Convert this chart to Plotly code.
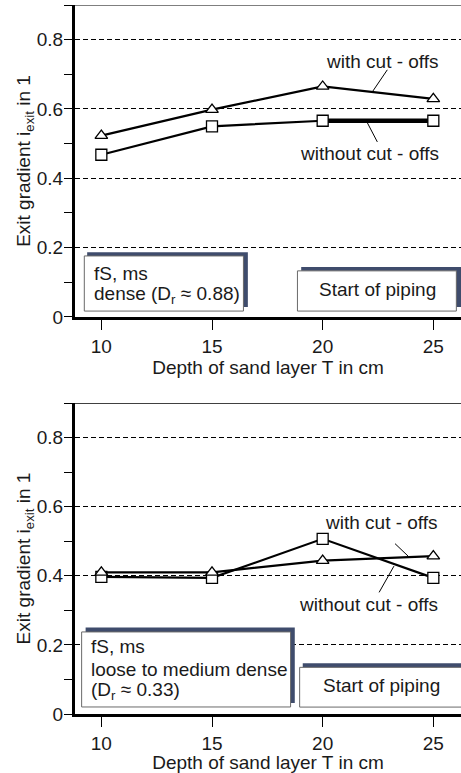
import plotly.graph_objects as go
from plotly.subplots import make_subplots

# ---- data ----
depth = [10, 15, 20, 25]
dense_with = [0.523, 0.598, 0.665, 0.629]
dense_without = [0.468, 0.550, 0.566, 0.566]
loose_with = [0.410, 0.410, 0.444, 0.457]
loose_without = [0.397, 0.394, 0.507, 0.394]

ytick_vals = [0, 0.2, 0.4, 0.6, 0.8]
ytick_text = ["0", "0.2", "0.4", "0.6", "0.8"]
xtick_vals = [10, 15, 20, 25]

FONT = "Liberation Sans, Arial, sans-serif"
TXT = "#1a1a1a"
SHADOW = "#3f4c6c"
BORDER = "#6a6a6a"

fig = make_subplots(rows=2, cols=1)

def add_series(row, x, ywith, ywithout, thick_tail=False):
    if thick_tail:
        # thick segment of "without" between last two points
        fig.add_trace(go.Scatter(x=x[2:], y=ywithout[2:], mode="lines",
                                 line=dict(color="black", width=4.5),
                                 showlegend=False, hoverinfo="skip"), row=row, col=1)
    fig.add_trace(go.Scatter(x=x, y=ywithout, mode="lines+markers",
                             line=dict(color="black", width=2.2),
                             marker=dict(symbol="square", size=11, color="white",
                                         line=dict(color="black", width=1.3)),
                             showlegend=False), row=row, col=1)
    fig.add_trace(go.Scatter(x=x, y=ywith, mode="lines+markers",
                             line=dict(color="black", width=2.2),
                             marker=dict(symbol="triangle-up", size=11, color="white",
                                         line=dict(color="black", width=1.3)),
                             showlegend=False), row=row, col=1)

add_series(1, depth, dense_with, dense_without, thick_tail=True)
add_series(2, depth, loose_with, loose_without)

axis_common_x = dict(range=[8.81, 26.25], tickvals=xtick_vals, ticks="outside",
                     ticklen=10, tickwidth=1, tickcolor="black",
                     showline=True, linewidth=3, linecolor="black",
                     showgrid=False, zeroline=False,
                     tickfont=dict(size=19, color=TXT, family=FONT),
                     title=dict(text="Depth of sand layer T in cm",
                                font=dict(size=19, color=TXT, family=FONT), standoff=0))
axis_common_y = dict(range=[0, 0.9], tickvals=ytick_vals, ticktext=ytick_text,
                     ticks="outside", ticklen=8, tickwidth=1, tickcolor="black",
                     ticklabelstandoff=-3,
                     minor=dict(dtick=0.1, tick0=0, ticks="outside", ticklen=8,
                                tickwidth=1, tickcolor="black", showgrid=False),
                     showline=True, linewidth=3, linecolor="black",
                     showgrid=True, gridcolor="black", gridwidth=1, griddash="5px,3px",
                     zeroline=False,
                     tickfont=dict(size=19, color=TXT, family=FONT),
                     title=dict(text="Exit gradient i<sub>exit</sub> in 1",
                                font=dict(size=19, color=TXT, family=FONT), standoff=2))

fig.update_xaxes(**axis_common_x)
fig.update_yaxes(**axis_common_y)
fig.update_yaxes(domain=[0.560, 1.0], row=1, col=1)
fig.update_yaxes(domain=[0.0, 0.4386], row=2, col=1)

shapes = []
annotations = []

def box(xref, yref, x0, x1, y0, y1, sx0, sx1, sy0, sy1):
    shapes.append(dict(type="rect", xref=xref, yref=yref, x0=sx0, x1=sx1, y0=sy0, y1=sy1,
                       fillcolor=SHADOW, line=dict(width=0), layer="above"))
    shapes.append(dict(type="rect", xref=xref, yref=yref, x0=x0, x1=x1, y0=y0, y1=y1,
                       fillcolor="white", line=dict(color=BORDER, width=1), layer="above"))

def label(xref, yref, x, y, text, xanchor="center"):
    annotations.append(dict(xref=xref, yref=yref, x=x, y=y, text=text, showarrow=False,
                            xanchor=xanchor, yanchor="middle",
                            font=dict(size=19, color=TXT, family=FONT)))

def leader(xref, yref, x0, y0, x1, y1):
    shapes.append(dict(type="line", xref=xref, yref=yref, x0=x0, y0=y0, x1=x1, y1=y1,
                       line=dict(color="black", width=1)))

# top frame lines
for xr, yr in (("x domain", "y"), ("x2 domain", "y2")):
    shapes.append(dict(type="line", xref=xr, yref=yr, x0=-0.022, x1=1, y0=0.9, y1=0.9,
                       line=dict(color="black", width=1.2)))

# ---- top panel ----
box("x", "y", 9.23, 16.42, 0.017, 0.176, 9.36, 16.62, 0.029, 0.187)
label("x", "y", 9.58, 0.124, "fS, ms", "left")
label("x", "y", 9.58, 0.0635, "dense (D<sub>r</sub> ≈ 0.88)", "left")
box("x", "y", 18.86, 26.04, 0.017, 0.133, 19.03, 26.4, 0.029, 0.144)
label("x", "y", 22.49, 0.078, "Start of piping")
label("x", "y", 22.7, 0.737, "with cut - offs")
leader("x", "y", 22.92, 0.713, 22.25, 0.650)
label("x", "y", 22.11, 0.473, "without cut - offs")
leader("x", "y", 22.02, 0.560, 22.47, 0.505)

# ---- bottom panel ----
box("x2", "y2", 9.11, 18.55, 0.0203, 0.2375, 9.29, 18.74, 0.032, 0.250)
label("x2", "y2", 9.44, 0.194, "fS, ms", "left")
label("x2", "y2", 9.44, 0.130, "loose to medium dense", "left")
label("x2", "y2", 9.44, 0.066, "(D<sub>r</sub> ≈ 0.33)", "left")
box("x2", "y2", 18.96, 26.3, 0.020, 0.135, 19.1, 26.4, 0.032, 0.147)
label("x2", "y2", 22.64, 0.082, "Start of piping")
label("x2", "y2", 22.64, 0.555, "with cut - offs")
leader("x2", "y2", 23.27, 0.493, 23.86, 0.457)
label("x2", "y2", 22.06, 0.317, "without cut - offs")
leader("x2", "y2", 22.55, 0.352, 23.22, 0.428)

fig.update_layout(width=461, height=773, margin=dict(l=75, r=0, t=5, b=59),
                  paper_bgcolor="white", plot_bgcolor="white",
                  shapes=shapes, annotations=annotations, showlegend=False,
                  font=dict(family=FONT, color=TXT))

fig.write_html("out.html")
